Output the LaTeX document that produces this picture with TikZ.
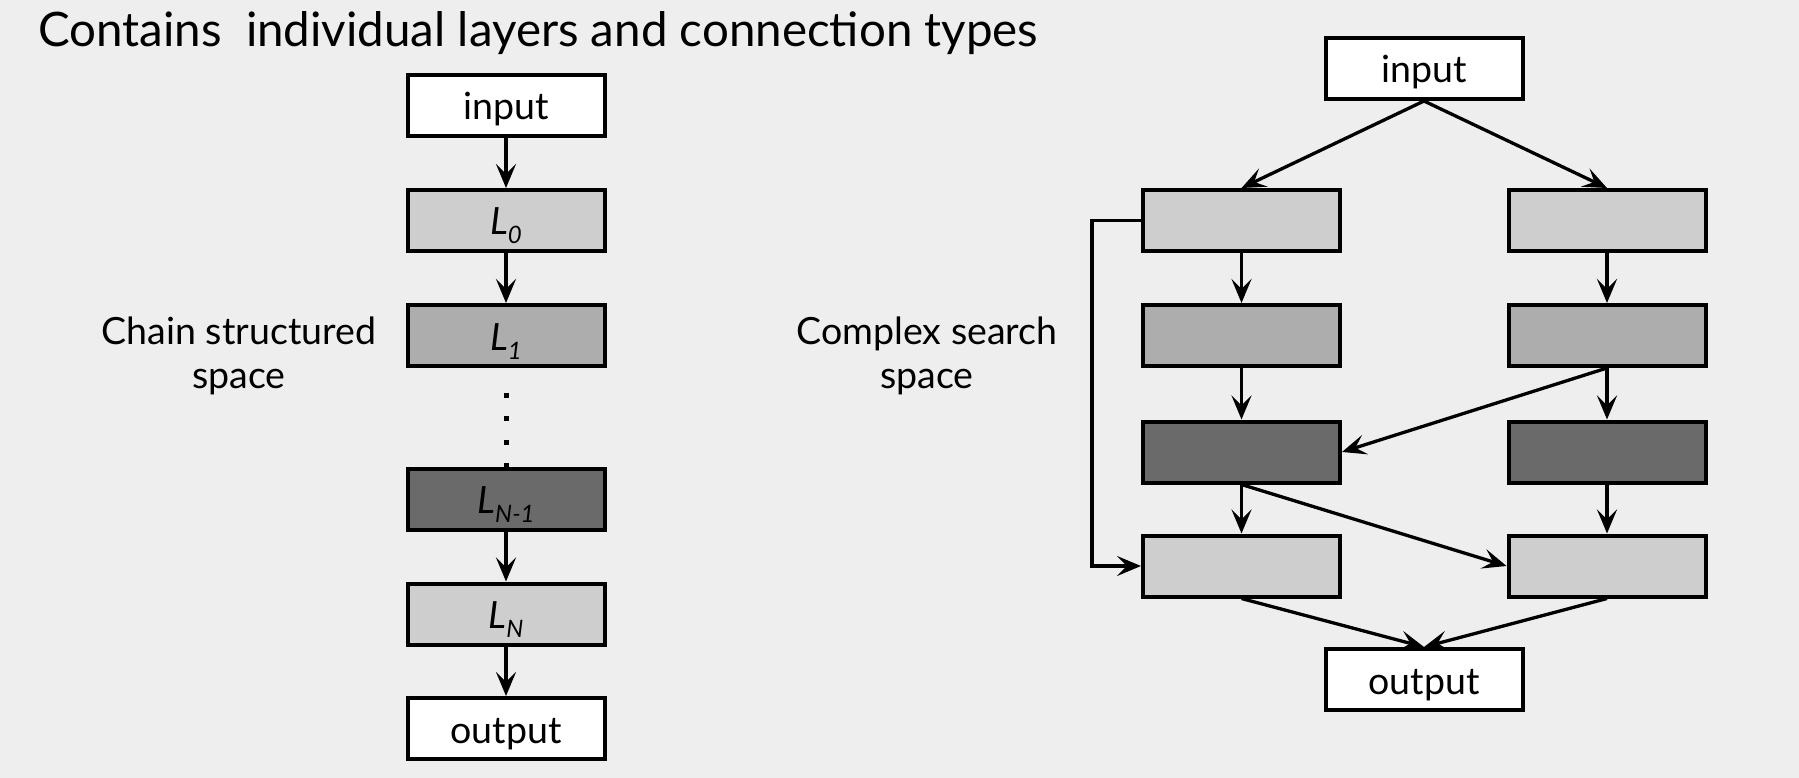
\documentclass[tikz,border=0pt]{standalone}
\usepackage{fontspec}
\setmainfont{Lato}
\usetikzlibrary{arrows.meta}
\definecolor{bg}{HTML}{EEEEEE}
\definecolor{lite}{HTML}{CECECE}
\definecolor{midg}{HTML}{ADADAD}
\definecolor{darkg}{HTML}{6A6A6A}
\newcommand{\Lsub}[1]{{\itshape L\raisebox{-9pt}{\fontsize{24}{24}\selectfont #1}}}
\begin{document}
\begin{tikzpicture}[x=1pt,y=-1pt,
  blk/.style={draw=black, line width=4pt, minimum width=197pt, minimum height=61pt,
    inner sep=0pt, text height=29pt, text depth=0pt, font=\fontsize{37.5}{40}\selectfont},
  whitebox/.style={blk, fill=white},
  litebox/.style={blk, fill=lite},
  midbox/.style={blk, fill=midg},
  darkbox/.style={blk, fill=darkg},
  arr/.style={line width=3.3pt, -{Stealth[length=24pt,width=20pt,inset=10pt]}},
  dotline/.style={line width=5pt, dash pattern=on 0pt off 24.5pt on 5pt off 18.5pt on 5pt off 18.5pt on 5pt off 18.5pt on 5pt off 40pt},
  lbl/.style={font=\fontsize{37.5}{44}\selectfont, align=center, inner sep=0pt}]
\fill[bg] (0,0) rectangle (1799,778);
\useasboundingbox (0,0) rectangle (1799,778);

% title
\node[anchor=base west, inner sep=0pt, font=\fontsize{47.5}{50}\selectfont] (title) at (38,47) {Contains\ \ individual layers and connection types};

% left chain
\node[whitebox] (cin) at (506,105.5) {input};
\node[litebox] (c0) at (506,220.5) {\Lsub{0}};
\node[midbox] (c1) at (506,335.5) {\Lsub{1}};
\node[darkbox] (cn1) at (506,499) {\Lsub{N-1}};
\node[litebox] (cn) at (506,614) {\Lsub{N}};
\node[whitebox] (cout) at (506,728.5) {output};

\draw[arr] (cin) -- (c0);
\draw[arr] (c0) -- (c1);
\draw[dotline] (c1.south) -- (cn1.north);
\draw[arr] (cn1) -- (cn);
\draw[arr] (cn) -- (cout);

\node[lbl] (chainlbl) at (239,356) {Chain structured\\space};

% right complex
\node[whitebox] (rin) at (1424,68.5) {input};
\node[litebox] (a1) at (1241.5,220.5) {};
\node[midbox] (a2) at (1241.5,335.5) {};
\node[darkbox] (a3) at (1241.5,452) {};
\node[litebox] (a4) at (1241.5,566) {};
\node[litebox] (b1) at (1607,220.5) {};
\node[midbox] (b2) at (1607,335.5) {};
\node[darkbox] (b3) at (1607,452) {};
\node[litebox] (b4) at (1607,566) {};
\node[whitebox] (rout) at (1424,679.5) {output};

\draw[arr] (rin.south) -- (a1.north);
\draw[arr] (rin.south) -- (b1.north);
\draw[arr] (a1) -- (a2);
\draw[arr] (a2) -- (a3);
\draw[arr] (a3) -- (a4);
\draw[arr] (b1) -- (b2);
\draw[arr] (b2) -- (b3);
\draw[arr] (b3) -- (b4);
\draw[arr] (b2.south) -- (a3.east);
\draw[arr] (a3.south) -- (b4.west);
\draw[arr] (a1.west) -- ++(-49,0) |- (a4.west);
\draw[arr] (a4.south) -- (rout.north);
\draw[arr] (b4.south) -- (rout.north);

\node[lbl] (complexlbl) at (927,356) {Complex search\\space};
\end{tikzpicture}
\end{document}
